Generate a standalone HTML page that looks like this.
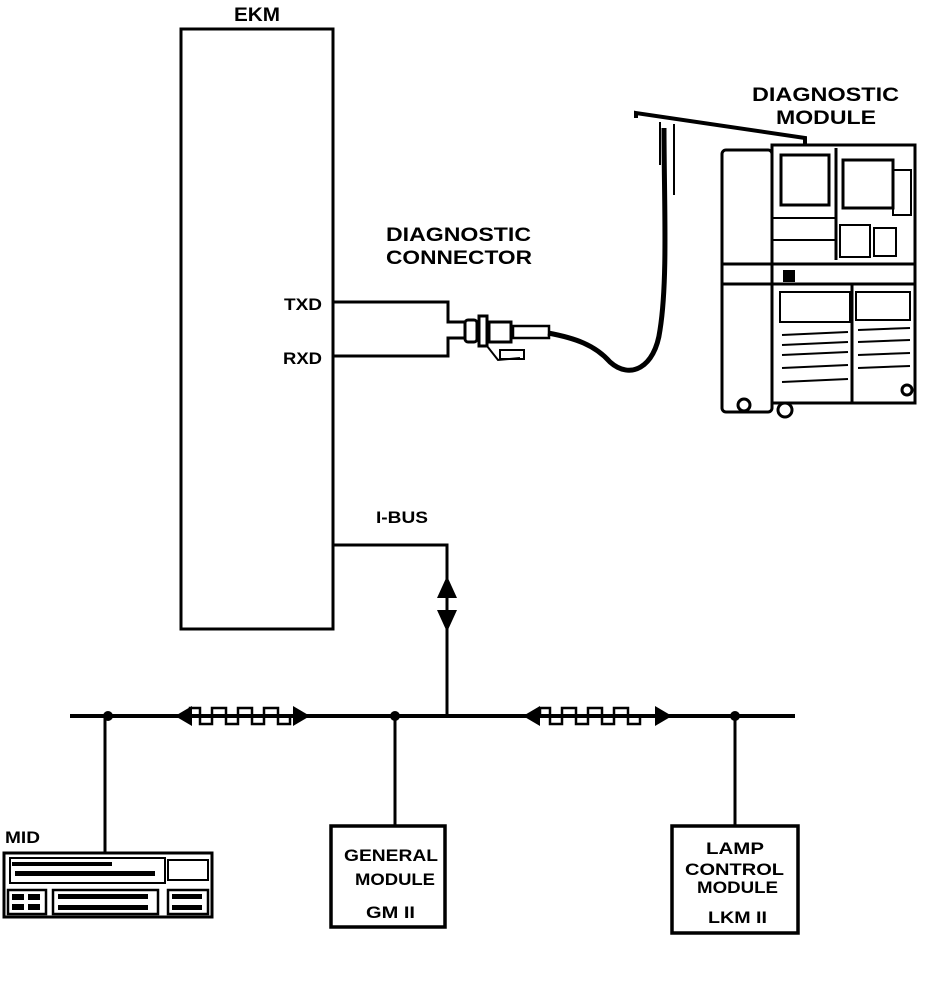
<!DOCTYPE html>
<html><head><meta charset="utf-8"><style>
html,body{margin:0;padding:0;background:#fff;}
svg{display:block}
text{font-family:"Liberation Sans",Arial,sans-serif;font-weight:bold;fill:#000}
</style></head><body>
<svg width="944" height="1004" viewBox="0 0 944 1004" xmlns="http://www.w3.org/2000/svg">
<g fill="none" stroke="#000" stroke-width="3">
<rect x="181" y="29" width="152" height="600"/>
<polyline points="333,302 448,302 448,322 465,322"/>
<polyline points="333,356 448,356 448,338 465,338"/>
<polyline points="333,545 447,545 447,718"/>
<line x1="70" y1="716" x2="795" y2="716" stroke-width="4"/>
<line x1="105" y1="716" x2="105" y2="853"/>
<line x1="395" y1="716" x2="395" y2="826"/>
<line x1="735" y1="716" x2="735" y2="826"/>
<path d="M190,716 V708 H200 V724 H212 V708 H226 V724 H238 V708 H252 V724 H264 V708 H278 V724 H290 V716" stroke-width="2.5"/>
<path d="M540,716 V708 H550 V724 H562 V708 H576 V724 H588 V708 H602 V724 H614 V708 H628 V724 H640 V716" stroke-width="2.5"/>
<rect x="4" y="853" width="208" height="64" stroke-width="3"/>
<rect x="331" y="826" width="114" height="101" stroke-width="3.5"/>
<rect x="672" y="826" width="126" height="107" stroke-width="3.5"/>
<path d="M548,333 C575,338 595,345 610,362 C630,380 655,368 660,330 C668,280 664,200 664,128" stroke-width="5"/>
<path d="M636,118 L636,113 L805,138 L805,145" stroke-width="4"/>
<line x1="660" y1="122" x2="660" y2="165" stroke-width="2"/>
<line x1="674" y1="124" x2="674" y2="195" stroke-width="2"/>
<rect x="722" y="150" width="50" height="262" rx="4"/>
<rect x="772" y="145" width="143" height="258"/>
<line x1="836" y1="148" x2="836" y2="260"/>
<rect x="781" y="155" width="48" height="50"/>
<rect x="843" y="160" width="50" height="48"/>
<rect x="893" y="170" width="18" height="45" stroke-width="2"/>
<line x1="772" y1="218" x2="836" y2="218" stroke-width="2"/>
<line x1="772" y1="240" x2="836" y2="240" stroke-width="2"/>
<rect x="840" y="225" width="30" height="32" stroke-width="2"/>
<rect x="874" y="228" width="22" height="28" stroke-width="2"/>
<line x1="722" y1="264" x2="915" y2="264"/>
<line x1="722" y1="284" x2="915" y2="284"/>
<line x1="852" y1="284" x2="852" y2="402"/>
<rect x="780" y="292" width="70" height="30" stroke-width="2"/>
<rect x="856" y="292" width="54" height="28" stroke-width="2"/>
<g stroke-width="2">
<line x1="782" y1="335" x2="848" y2="332"/><line x1="782" y1="345" x2="848" y2="342"/><line x1="782" y1="355" x2="848" y2="352"/><line x1="782" y1="368" x2="848" y2="365"/><line x1="782" y1="382" x2="848" y2="379"/>
<line x1="858" y1="330" x2="910" y2="328"/><line x1="858" y1="342" x2="910" y2="340"/><line x1="858" y1="355" x2="910" y2="353"/><line x1="858" y1="368" x2="910" y2="366"/>
</g>
<circle cx="744" cy="405" r="6"/><circle cx="785" cy="410" r="7"/><circle cx="907" cy="390" r="5"/>
<rect x="465" y="320" width="12" height="22" rx="3"/>
<rect x="479" y="316" width="8" height="30"/>
<rect x="489" y="322" width="22" height="20"/>
<rect x="513" y="326" width="36" height="12" stroke-width="2.5"/>
<path d="M487,346 L498,360 L520,358" stroke-width="2"/>
<rect x="500" y="350" width="24" height="9" stroke-width="2"/>
<rect x="10" y="858" width="155" height="25" stroke-width="2"/>
<rect x="168" y="860" width="40" height="20" stroke-width="2"/>
<g stroke-width="2.5">
<rect x="8" y="890" width="38" height="24"/>
<rect x="53" y="890" width="105" height="24"/>
<rect x="168" y="890" width="40" height="24"/>
</g>
</g>
<g fill="#000">
<rect x="12" y="862" width="100" height="4"/><rect x="15" y="871" width="140" height="5"/>
<rect x="12" y="894" width="12" height="6"/><rect x="28" y="894" width="12" height="6"/><rect x="12" y="904" width="12" height="6"/><rect x="28" y="904" width="12" height="6"/>
<rect x="58" y="894" width="90" height="5"/><rect x="58" y="905" width="90" height="5"/>
<rect x="172" y="894" width="30" height="5"/><rect x="172" y="905" width="30" height="5"/>
<circle cx="108" cy="716" r="5"/><circle cx="395" cy="716" r="5"/><circle cx="735" cy="716" r="5"/>
<polygon points="175,716 192,706 192,726"/>
<polygon points="310,716 293,706 293,726"/>
<polygon points="523,716 540,706 540,726"/>
<polygon points="672,716 655,706 655,726"/>
<polygon points="447,576 437,598 457,598"/>
<polygon points="447,632 437,610 457,610"/>
<rect x="783" y="270" width="12" height="12"/>
</g>
<g font-size="19" lengthAdjust="spacingAndGlyphs">
<text x="234" y="21" textLength="46" lengthAdjust="spacingAndGlyphs">EKM</text>
<text x="284" y="310" font-size="17" textLength="38" lengthAdjust="spacingAndGlyphs">TXD</text>
<text x="283" y="364" font-size="17" textLength="39" lengthAdjust="spacingAndGlyphs">RXD</text>
<text x="386" y="241" textLength="145" lengthAdjust="spacingAndGlyphs">DIAGNOSTIC</text>
<text x="386" y="264" textLength="146" lengthAdjust="spacingAndGlyphs">CONNECTOR</text>
<text x="752" y="101" textLength="147" lengthAdjust="spacingAndGlyphs">DIAGNOSTIC</text>
<text x="776" y="124" textLength="100" lengthAdjust="spacingAndGlyphs">MODULE</text>
<text x="376" y="523" font-size="17" textLength="52" lengthAdjust="spacingAndGlyphs">I-BUS</text>
<text x="5" y="843" font-size="17" textLength="35" lengthAdjust="spacingAndGlyphs">MID</text>
<text x="344" y="861" font-size="17" textLength="94" lengthAdjust="spacingAndGlyphs">GENERAL</text>
<text x="355" y="885" font-size="17" textLength="80" lengthAdjust="spacingAndGlyphs">MODULE</text>
<text x="366" y="918" font-size="17" textLength="49" lengthAdjust="spacingAndGlyphs">GM II</text>
<text x="706" y="854" font-size="17" textLength="58" lengthAdjust="spacingAndGlyphs">LAMP</text>
<text x="685" y="875" font-size="17" textLength="99" lengthAdjust="spacingAndGlyphs">CONTROL</text>
<text x="697" y="893" font-size="17" textLength="81" lengthAdjust="spacingAndGlyphs">MODULE</text>
<text x="708" y="923" font-size="17" textLength="59" lengthAdjust="spacingAndGlyphs">LKM II</text>
</g>
</svg>
</body></html>
